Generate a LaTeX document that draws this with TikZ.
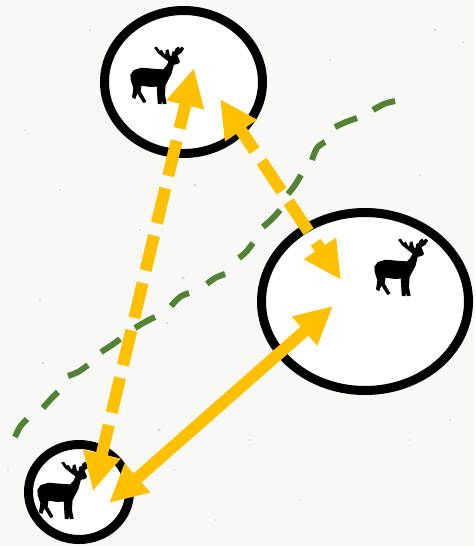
\documentclass[tikz,border=0pt]{standalone}
\usetikzlibrary{arrows.meta,shapes.geometric}
\definecolor{paper}{HTML}{F8F8F7}
\definecolor{amberline}{HTML}{FFC000}
\definecolor{boundary}{HTML}{548235}
\tikzset{
  rangering/.style={draw=black,fill=white,line width=9pt,ellipse,inner sep=0pt,outer sep=0pt},
  moveline/.style={draw=amberline,line width=12pt,{Triangle[width=36pt,length=38pt]}-{Triangle[width=36pt,length=38pt]},line cap=butt},
  movedash/.style={moveline,dash pattern=on 36pt off 12.7pt,dash phase=9.5pt},
  borderline/.style={draw=boundary,line width=6pt,line cap=butt},
  speck/.style={fill=black!14,draw=none},
  deerpic/.pic={
    \filldraw[black,line width=1.2pt,line join=round,x=0.3333pt,y=-0.3333pt] (94,240) -- (93,225) -- (102,212) -- (125,205) -- (160,208) -- (190,210) -- (200,200) -- (208,184)
      -- (192,172) -- (175,158) -- (165,144) -- (170,142) -- (178,154) -- (185,152) -- (190,162) -- (197,167) -- (199,152) -- (204,150)
      -- (208,167) -- (216,172) -- (218,157) -- (225,155) -- (228,147) -- (235,142) -- (238,150) -- (245,142) -- (250,146) -- (243,157)
      -- (230,165) -- (238,185) -- (233,190) -- (220,193) -- (213,220) -- (195,255) -- (193,285) -- (198,310) -- (190,311) -- (185,288)
      -- (183,311) -- (175,310) -- (172,258) -- (150,259) -- (123,255) -- (120,275) -- (137,304) -- (131,307) -- (112,277) -- (106,290)
      -- (105,295) -- (98,291) -- (102,265) -- cycle;
  }
}
\begin{document}
\begin{tikzpicture}[x=1pt,y=-1pt]
\useasboundingbox (0,0) rectangle (475,546);
\fill[paper] (0,0) rectangle (475,546);
\foreach \a/\b/\r in {435/30/1.5,463/42/1,195/185/1.6,183/278/1.8,43/363/1.6,159/430/1.8,167/323/1.4,140/230/1,60/190/1,25/130/1,420/175/1.2,410/440/1,250/440/1.2,300/500/1,215/520/1,450/420/1,40/300/1,245/120/1,330/60/1,90/30/1,8/470/1,175/470/1}
  \fill[speck] (\a,\b) circle (\r);
\foreach \xa/\ya/\xm/\ym/\xb/\yb in {
  15/437/20/427/27/419, 43/408/50/400/58/392, 68/376/78/372/88/365, 101/352/112/345/120/339,
  135/328/145/322/155/317, 171/306/180/297/189/293, 207/284/215/278/225/274, 239/258/246/252/253/243,
  263/227/273/218/280/210, 288/194/295/185/301/175, 312/160/317/148/325/142, 335/127/346/122/357/118,
  373/110/384/104/395/101}
  \draw[borderline] plot[smooth,tension=0.6] coordinates {(\xa,\ya) (\xm,\ym) (\xb,\yb)};
\node[rangering,minimum width=158pt,minimum height=143pt] (top) at (183.5,82) {};
\node[rangering,minimum width=207pt,minimum height=178pt] (right) at (365,301.5) {};
\node[rangering,minimum width=101pt,minimum height=95pt] (bottom) at (79,492) {};
\pic at (100,0) {deerpic};
\pic at (344,192) {deerpic};
\pic at (7,415) {deerpic};
\coordinate (a1) at (194,68);
\coordinate (a2) at (93,491);
\coordinate (b1) at (220,99);
\coordinate (b2) at (341,280);
\coordinate (c1) at (333,306);
\coordinate (c2) at (109,503);
\draw[movedash] (a1) -- (a2);
\draw[movedash] (b1) -- (b2);
\draw[moveline] (c1) -- (c2);
\end{tikzpicture}
\end{document}
